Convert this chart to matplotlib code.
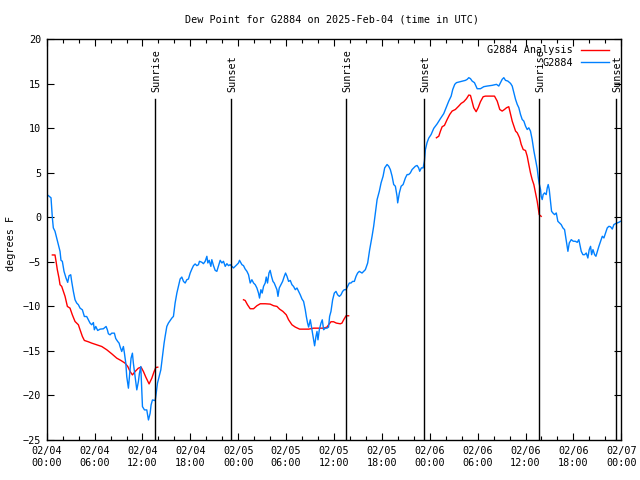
import numpy as np
import matplotlib
matplotlib.use("Agg")
import matplotlib.pyplot as plt

# ---- data ----
obs_hours = [0.2, 0.54, 0.63, 0.71, 0.83, 1.04, 1.25, 1.46, 1.67, 1.79, 1.96, 2.17, 2.42, 2.63, 2.80, 3.01, 3.13,
             3.34, 3.55, 3.76, 3.97, 4.18, 4.47, 4.72, 5.01, 5.22, 5.43, 5.64, 5.85, 5.97, 6.15, 6.39, 6.69, 7.10,
             7.44, 7.6, 7.73, 7.94, 8.15, 8.48, 8.65, 8.9, 9.07, 9.19, 9.4, 9.61, 9.74, 9.91, 10.03, 10.24, 10.45,
             10.57, 10.74, 10.86, 11.08, 11.29, 11.49, 11.62, 11.79, 11.92, 12.0, 12.25, 12.54, 12.75, 12.96, 13.08,
             13.25, 13.59, 13.71, 13.88, 14.09, 14.3, 14.51, 14.71, 14.84, 15.05, 15.25, 15.68, 15.88, 16.09, 16.31,
             16.51, 16.72, 16.93, 17.14, 17.35, 17.56, 17.76, 17.98, 18.19, 18.39, 18.60, 18.82, 19.02, 19.14, 19.44,
             19.64, 19.86, 20.07, 20.19, 20.36, 20.57, 20.69, 20.90, 21.11, 21.32, 21.53, 21.74, 21.95, 22.15, 22.37,
             22.58, 22.78, 22.99, 23.21, 23.41, 23.62, 23.83, 24.03, 24.16, 24.46, 24.66, 24.87, 25.09, 25.29, 25.50,
             25.71, 25.92, 26.13, 26.34, 26.54, 26.67, 26.84, 27.0, 27.17, 27.38, 27.51, 27.67, 27.85, 28.0, 28.17,
             28.35, 28.51, 28.68, 28.85, 28.98, 29.14, 29.35, 29.56, 29.77, 29.93, 30.11, 30.31, 30.52, 30.73, 30.93,
             31.15, 31.36, 31.56, 31.77, 31.99, 32.19, 32.40, 32.53, 32.69, 32.82, 33.03, 33.24, 33.44, 33.57, 33.74,
             33.87, 33.99, 34.16, 34.37, 34.53, 34.70, 34.91, 35.12, 35.32, 35.45, 35.62, 35.83, 36.04, 36.25, 36.45,
             36.67, 36.88, 37.08, 37.29, 37.50, 37.71, 37.92, 38.13, 38.33, 38.55, 38.76, 38.96, 39.17, 39.51, 39.93,
             40.22, 40.47, 40.77, 40.97, 41.18, 41.40, 41.68, 41.90, 42.15, 42.35, 42.65, 42.85, 43.06, 43.28, 43.48,
             43.69, 43.90, 43.98, 44.19, 44.41, 44.66, 44.95, 45.16, 45.36, 45.57, 45.78, 45.99, 46.20, 46.41, 46.61,
             46.74, 46.95, 47.17, 47.33, 47.45, 47.66, 47.87, 48.17, 48.50, 48.92, 49.34, 49.75, 50.09, 50.38, 50.68,
             50.88, 51.13, 51.34, 51.63, 52.06, 52.47, 52.69, 52.89, 53.10, 53.31, 53.60, 53.94, 54.35, 54.77, 55.20,
             55.82, 56.36, 56.65, 56.86, 57.07, 57.28, 57.49, 57.78, 58.12, 58.33, 58.54, 58.75, 58.96, 59.16, 59.37,
             59.58, 59.79, 60.0, 60.21, 60.41, 60.62, 60.83, 61.04, 61.25, 61.46, 61.59, 61.71, 61.88, 61.96, 62.09,
             62.21, 62.38, 62.59, 62.72, 62.84, 62.97, 63.13, 63.26, 63.42, 63.64, 63.85, 64.05, 64.26, 64.47, 64.68,
             64.89, 65.02, 65.14, 65.31, 65.48, 65.73, 65.98, 66.23, 66.48, 66.68, 66.81, 66.98, 67.19, 67.40, 67.61,
             67.81, 67.98, 68.15, 68.28, 68.45, 68.66, 68.82, 69.0, 69.19, 69.40, 69.62, 69.82, 70.03, 70.24, 70.45,
             70.66, 70.87, 71.07, 71.29, 71.50, 71.70, 71.91]
obs_dew = [2.45, 2.2, 1.06, -0.06, -1.18, -1.56, -2.31, -3.06, -3.81, -4.82, -4.93, -6.06, -6.81, -7.30, -6.55, -6.44,
           -7.19, -8.31, -9.25, -9.62, -9.81, -10.19, -10.38, -11.13, -11.13, -11.5, -11.87, -12.06, -11.81, -12.62,
           -12.25, -12.7, -12.55, -12.51, -12.25, -12.62, -13.07, -13.19, -13.0, -13.0, -13.6, -13.94, -14.12, -14.5,
           -15.06, -14.5, -15.25, -16.37, -17.88, -19.18, -17.12, -15.81, -15.25, -16.37, -17.88, -19.37, -18.44,
           -17.50, -16.75, -19.37, -21.25, -21.62, -21.62, -22.75, -22.0, -21.06, -20.5, -20.58, -19.82, -18.62,
           -17.88, -17.12, -15.62, -14.12, -13.37, -12.25, -11.87, -11.31, -11.12, -9.62, -8.5, -7.75, -6.92, -6.70,
           -7.19, -7.37, -7.0, -6.92, -6.25, -5.80, -5.42, -5.23, -5.42, -5.31, -4.93, -5.04, -5.2, -4.93, -4.37,
           -5.12, -4.82, -5.5, -4.75, -5.42, -5.95, -6.06, -5.42, -4.82, -5.12, -4.93, -5.5, -5.2, -5.42, -5.31, -5.5,
           -5.68, -5.5, -5.31, -5.12, -4.82, -5.31, -5.42, -5.80, -6.06, -6.44, -7.37, -7.0, -7.37, -7.56, -7.93, -8.5,
           -9.06, -8.12, -8.5, -7.75, -7.37, -6.70, -7.37, -6.25, -5.95, -6.62, -7.19, -7.37, -7.75, -8.12, -8.87,
           -7.93, -7.56, -7.19, -6.62, -6.25, -6.62, -7.19, -7.08, -7.56, -7.75, -8.12, -7.93, -8.31, -8.69, -9.17,
           -9.44, -10.37, -11.12, -11.87, -12.32, -11.5, -12.62, -13.75, -14.42, -13.37, -12.81, -13.75, -12.62,
           -11.87, -11.5, -12.62, -12.44, -12.44, -12.32, -11.12, -10.56, -9.25, -8.5, -8.31, -8.69, -8.87, -8.69,
           -8.31, -8.12, -8.12, -7.75, -7.37, -7.37, -7.19, -7.19, -6.62, -6.25, -6.06, -6.25, -5.87, -5.12, -3.62,
           -2.12, -1.0, 0.50, 2.0, 2.94, 3.88, 4.62, 5.56, 5.94, 5.75, 5.37, 4.62, 3.69, 3.5, 2.37, 1.63, 2.75, 3.5,
           3.69, 4.44, 4.81, 4.81, 5.0, 5.37, 5.56, 5.75, 5.83, 5.56, 5.18, 5.56, 5.56, 6.31, 7.6, 8.4, 8.9, 9.31,
           10.0, 10.5, 11.1, 11.65, 12.4, 13.06, 13.62, 14.37, 14.94, 15.13, 15.2, 15.31, 15.39, 15.5, 15.69, 15.58,
           15.31, 15.13, 14.45, 14.45, 14.68, 14.75, 14.83, 14.94, 14.75, 15.13, 15.5, 15.69, 15.39, 15.31, 15.05,
           14.75, 14.0, 13.25, 12.69, 12.31, 11.56, 11.0, 10.81, 10.25, 9.87, 10.06, 9.69, 8.75, 7.5, 6.5, 5.5, 4.5,
           3.8, 3.13, 2.37, 2.0, 2.56, 2.75, 2.56, 3.31, 3.69, 3.13, 1.81, 0.69, 0.50, 0.31, 0.50, -0.44, -0.62,
           -0.81, -1.18, -1.37, -2.12, -2.87, -3.81, -2.87, -2.5, -2.68, -2.68, -2.8, -2.5, -3.06, -3.81, -4.19,
           -4.19, -4.0, -4.56, -3.62, -3.25, -4.19, -3.62, -4.19, -4.37, -3.81, -3.25, -2.68, -2.12, -2.31, -1.75,
           -1.18, -1.0, -1.06, -1.31, -0.81, -0.69, -0.62, -0.55, -0.44]

# Analysis (None marks a gap between runs)
ana_hours = [0.71, 1.04, 1.17, 1.33, 1.54, 1.67, 1.88, 2.09, 2.30, 2.59, 2.92, 3.21, 3.55, 3.97, 4.18, 4.47, 4.72,
             5.22, 5.64, 6.27, 6.90, 7.53, 8.15, 8.78, 9.32, 9.82, 10.16, 10.45, 10.74, 11.08, 11.49, 11.83, 12.12,
             12.42, 12.83, 13.17, 13.46, 13.67, 13.92, None,
             24.66, 24.87, 25.16, 25.50, 25.92, 26.34, 26.76, 27.38, 28.0, 28.43, 28.85, 29.18, 29.60, 30.02, 30.31,
             30.73, 31.15, 31.69, 32.19, 32.82, 33.44, 34.07, 34.70, 35.12, 35.32, 35.62, 35.95, 36.29, 36.79, 37.00,
             37.21, 37.51, 37.83, None,
             48.83, 49.13, 49.34, 49.55, 49.84, 50.18, 50.50, 50.80, 51.21, 51.63, 51.93, 52.26, 52.60, 52.89, 53.10,
             53.31, 53.51, 53.81, 54.06, 54.35, 54.69, 54.98, 55.61, 56.11, 56.45, 56.77, 57.07, 57.36, 57.61, 57.90,
             58.03, 58.33, 58.54, 58.75, 58.96, 59.25, 59.46, 59.71, 60.0, 60.21, 60.41, 60.62, 60.83, 61.04, 61.25,
             61.46, 61.59, 61.71, 61.96]
ana_dew = [-4.22, -4.22, -4.93, -5.87, -6.81, -7.56, -7.75, -8.31, -8.87, -10.0, -10.19, -10.94, -11.69, -12.06,
           -12.62, -13.37, -13.82, -13.97, -14.12, -14.31, -14.5, -14.87, -15.32, -15.81, -16.08, -16.37, -16.75,
           -17.31, -17.69, -17.31, -16.93, -16.82, -17.31, -17.94, -18.70, -18.06, -17.31, -16.86, -16.82, None,
           -9.25, -9.33, -9.81, -10.26, -10.26, -9.92, -9.70, -9.70, -9.74, -9.92, -10.0, -10.30, -10.56, -10.94,
           -11.5, -12.06, -12.32, -12.55, -12.55, -12.55, -12.44, -12.44, -12.44, -12.32, -12.06, -11.72, -11.72,
           -11.87, -11.95, -11.87, -11.5, -11.05, -11.05, None,
           8.94, 9.12, 9.69, 10.18, 10.33, 11.0, 11.56, 11.94, 12.12, 12.5, 12.80, 12.99, 13.33, 13.74, 13.70, 12.99,
           12.31, 11.87, 12.31, 12.99, 13.55, 13.62, 13.62, 13.62, 13.06, 12.12, 11.94, 12.12, 12.31, 12.43, 11.94,
           10.81, 10.25, 9.69, 9.50, 8.94, 8.19, 7.62, 7.51, 6.87, 5.94, 5.0, 4.25, 3.69, 2.75, 1.81, 1.06, 0.31,
           0.12]

sun_hours = [13.6, 23.12, 37.55, 47.24, 61.67, 71.33]
sun_labels = ["Sunrise", "Sunset", "Sunrise", "Sunset", "Sunrise", "Sunset"]

tick_hours = [0, 6, 12, 18, 24, 30, 36, 42, 48, 54, 60, 66, 72]
tick_labels = ["02/04\n00:00", "02/04\n06:00", "02/04\n12:00", "02/04\n18:00", "02/05\n00:00", "02/05\n06:00",
               "02/05\n12:00", "02/05\n18:00", "02/06\n00:00", "02/06\n06:00", "02/06\n12:00", "02/06\n18:00",
               "02/07\n00:00"]

title = "Dew Point for G2884 on 2025-Feb-04 (time in UTC)"
ylabel = "degrees F"

# ---- plot ----
FONT = "DejaVu Sans Mono"
FS = 7.3
plt.rcParams['font.family'] = [FONT]

fig = plt.figure(figsize=(6.4, 4.8), dpi=100)
ax = fig.add_axes([46.7 / 640, 40 / 480, (621.3 - 46.7) / 640, (440 - 39.3) / 480])

ah = np.array([np.nan if v is None else v for v in ana_hours], dtype=float)
ad = np.array([np.nan if v is None else v for v in ana_dew], dtype=float)

ax.plot(ah, ad, color="#ff0000", lw=1.0, label="G2884 Analysis")
ax.plot(obs_hours, obs_dew, color="#0080ff", lw=1.0, label="G2884")

for h, lab in zip(sun_hours, sun_labels):
    ax.plot([h, h], [-25, 13.35], color="black", lw=1.0)
    ax.text(h + 0.15, 14.1, lab, rotation=90, ha="center", va="bottom", fontsize=FS)

ax.set_xlim(0, 72)
ax.set_ylim(-25, 20)
ax.set_xticks(tick_hours)
ax.set_xticklabels(tick_labels, fontsize=FS, linespacing=1.3)
ax.set_xticks(np.arange(0, 73, 2), minor=True)
ax.set_yticks(np.arange(-25, 21, 5))
ax.tick_params(axis="y", labelsize=FS)
ax.tick_params(which="both", direction="in", top=True, right=True, width=0.8)
ax.tick_params(which="major", length=5, pad=4)
ax.tick_params(which="minor", length=3)
ax.tick_params(axis="y", which="minor", left=False, right=False)
for s in ax.spines.values():
    s.set_linewidth(1.0)

fig.text(11 / 640, 1 - 243 / 480, ylabel, rotation=90, ha="center", va="center", fontsize=FS)
fig.text(332 / 640, 1 - 19 / 480, title, ha="center", va="center", fontsize=FS)

leg = ax.legend(loc="upper right", markerfirst=False, frameon=False, fontsize=FS,
                handlelength=2.8, handletextpad=0.8, labelspacing=0.25,
                borderaxespad=0.3, borderpad=0.2, bbox_to_anchor=(0.988, 0.998))

fig.savefig("out.png", dpi=100)
